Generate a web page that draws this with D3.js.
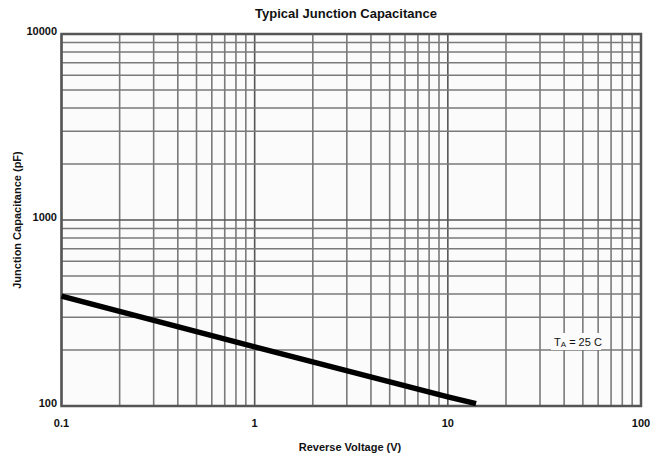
<!DOCTYPE html>
<html><head><meta charset="utf-8">
<script src="https://cdn.jsdelivr.net/npm/d3@7"></script>
<style>body{margin:0;background:#fff;font-family:"Liberation Sans",Arial,sans-serif}</style>
</head><body><svg id="c" width="651" height="457"></svg>
<script>
const voltage = [0.1, 1, 10, 14];
const capacitance = [390, 208, 112, 103];
const xTicks = [0.1, 1, 10, 100];
const yTicks = [100, 1000, 10000];

const svg = d3.select("#c");
const m = {l:61.5, r:641, t:34, b:406};
const x = d3.scaleLog().domain([0.1,100]).range([m.l,m.r]);
const y = d3.scaleLog().domain([100,10000]).range([m.b,m.t]);

svg.append("rect").attr("x",m.l).attr("y",m.t).attr("width",m.r-m.l).attr("height",m.b-m.t).attr("fill","#fbfbfb");

const minor = [];
for (let d=0.1; d<100; d*=10) for (let k=1;k<10;k++) minor.push(+(d*k).toPrecision(3));
minor.push(100);
const minorY = [];
for (let d=100; d<10000; d*=10) for (let k=1;k<10;k++) minorY.push(d*k);
minorY.push(10000);

const g = svg.append("g");
g.selectAll(".vx").data(minor).join("line")
  .attr("x1",d=>x(d)).attr("x2",d=>x(d)).attr("y1",m.t).attr("y2",m.b)
  .attr("stroke",d=>xTicks.includes(d)?"#555":"#7a7a7a").attr("stroke-width",1.6);
g.selectAll(".hy").data(minorY).join("line")
  .attr("y1",d=>y(d)).attr("y2",d=>y(d)).attr("x1",m.l).attr("x2",m.r)
  .attr("stroke",d=>yTicks.includes(d)?"#555":"#7a7a7a").attr("stroke-width",1.6);

// border
svg.append("rect").attr("x",m.l).attr("y",m.t).attr("width",m.r-m.l).attr("height",m.b-m.t)
  .attr("fill","none").attr("stroke","#555").attr("stroke-width",2.5);

// curve
svg.append("path").datum(voltage.map((v,i)=>[v,capacitance[i]]))
  .attr("d", d3.line().x(d=>x(d[0])).y(d=>y(d[1])))
  .attr("fill","none").attr("stroke","#000").attr("stroke-width",5.5);

// annotation
const ann = svg.append("g");
ann.append("rect").attr("x",551).attr("y",333).attr("width",50).attr("height",17).attr("fill","#fbfbfb");
const t = ann.append("text").attr("x",554).attr("y",346).attr("font-size",11).attr("fill","#111");
t.append("tspan").text("T");
t.append("tspan").attr("font-size",8).attr("dy",1).text("A");
t.append("tspan").attr("dy",-1).text(" = 25 C");

// tick labels
svg.selectAll(".xl").data(xTicks).join("text")
  .attr("x",d=>x(d)).attr("y",427).attr("text-anchor","middle")
  .attr("font-size",11).attr("font-weight","bold").attr("fill","#111").text(d=>d);
svg.selectAll(".yl").data(yTicks).join("text")
  .attr("x",57).attr("y",d=>y(d)+1).attr("text-anchor","end")
  .attr("font-size",11).attr("font-weight","bold").attr("fill","#111").text(d=>d);

svg.append("text").attr("x",346).attr("y",18).attr("text-anchor","middle")
  .attr("font-size",13).attr("font-weight","bold").attr("fill","#111").text("Typical Junction Capacitance");
svg.append("text").attr("x",350).attr("y",451).attr("text-anchor","middle")
  .attr("font-size",11).attr("font-weight","bold").attr("fill","#111").text("Reverse Voltage (V)");
svg.append("text").attr("transform","translate(21,220) rotate(-90)").attr("text-anchor","middle")
  .attr("font-size",11).attr("font-weight","bold").attr("fill","#111").text("Junction Capacitance (pF)");
</script></body></html>
